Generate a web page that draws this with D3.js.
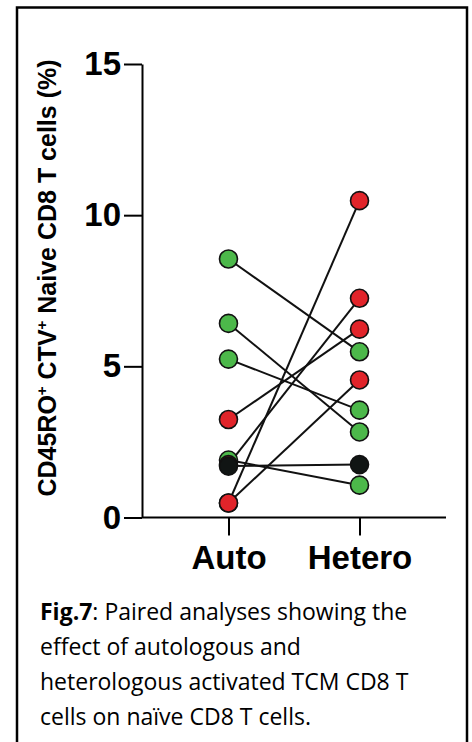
<!DOCTYPE html>
<html>
<head>
<meta charset="utf-8">
<script src="https://cdn.jsdelivr.net/npm/d3@7"></script>
<style>
  body { margin: 0; background: #fff; }
</style>
</head>
<body>
<div id="chart_container"></div>
<script>
// paired values, one entry per donor pair
var groups = ["Auto", "Hetero"];
var autoValues   = [8.55, 6.42, 5.24, 3.24, 1.90, 1.75, 1.70, 0.48, 0.48];
var heteroValues = [5.48, 2.83, 3.55, 6.23, 1.07, 7.25, 1.75, 10.48, 4.55];
var pairColors   = ["green", "green", "green", "red", "green", "red", "black", "red", "red"];
var yTicks = [0, 5, 10, 15];
var captionLines = [
    ["Fig.7", ": Paired analyses showing the"],
    ["", "effect of autologous and"],
    ["", "heterologous activated TCM CD8 T"],
    ["", "cells on naïve CD8 T cells."]
];

var fillOf = {green: "#4cb84a", red: "#e1242a", black: "#111514"};

var width = 472, height = 742;

var svg = d3.select("#chart_container")
    .append("svg")
    .attr("width", width)
    .attr("height", height);

// frame around the figure (bottom edge is cut off)
svg.append("rect")
    .attr("x", 17)
    .attr("y", 7.5)
    .attr("width", 450)
    .attr("height", 760)
    .attr("fill", "none")
    .attr("stroke", "#000")
    .attr("stroke-width", 2.5);

var x = d3.scalePoint()
    .domain(groups)
    .range([142, 446])
    .padding(0.66);

var y = d3.scaleLinear()
    .domain([0, 15])
    .range([517.5, 64]);

var pairs = autoValues.map(function(v, i) {
    return {auto: v, hetero: heteroValues[i], color: pairColors[i]};
});

var axisFont = "'Liberation Sans', Arial, sans-serif";

// Y axis
var yAxis = d3.axisLeft(y)
    .tickValues(yTicks)
    .tickSize(18)
    .tickSizeOuter(0)
    .tickPadding(3);

var gy = svg.append("g")
    .attr("transform", "translate(142,0)")
    .call(yAxis);

// X axis
var xAxis = d3.axisBottom(x)
    .tickSize(18)
    .tickSizeOuter(0)
    .tickPadding(10);

var gx = svg.append("g")
    .attr("transform", "translate(0," + y(0) + ")")
    .call(xAxis);

gx.select(".domain").attr("d", "M142,0H446");

[gx, gy].forEach(function(g) {
    g.selectAll("path, line")
        .attr("stroke", "#000")
        .attr("stroke-width", 2);
    g.selectAll("text")
        .attr("fill", "#000")
        .style("font-family", axisFont)
        .style("font-weight", "bold")
        .style("font-size", "33px");
});

// Y label
var ylab = svg.append("text")
    .attr("transform", "translate(56," + 278 + ") rotate(-90)")
    .attr("text-anchor", "middle")
    .style("font-family", axisFont)
    .style("font-weight", "bold")
    .style("font-size", "25px")
    .attr("fill", "#000");

ylab.append("tspan").text("CD45RO");
ylab.append("tspan").attr("dy", -9).style("font-size", "15px").text("+");
ylab.append("tspan").attr("dy", 9).text(" CTV");
ylab.append("tspan").attr("dy", -9).style("font-size", "15px").text("+");
ylab.append("tspan").attr("dy", 9).text(" Naive CD8 T cells (%)");

// pair lines
var plot = svg.append("g");

plot.selectAll(".pair-line")
    .data(pairs)
    .enter()
    .append("line")
    .attr("class", "pair-line")
    .attr("x1", x("Auto"))
    .attr("x2", x("Hetero"))
    .attr("y1", function(d) { return y(d.auto); })
    .attr("y2", function(d) { return y(d.hetero); })
    .attr("stroke", "#111")
    .attr("stroke-width", 2);

// points, black drawn last so it sits on top
var ordered = pairs.slice().sort(function(a, b) {
    return (a.color === "black") - (b.color === "black");
});

["auto", "hetero"].forEach(function(key, k) {
    plot.selectAll(".pt-" + key)
        .data(ordered)
        .enter()
        .append("circle")
        .attr("class", "pt-" + key)
        .attr("cx", x(groups[k]))
        .attr("cy", function(d) { return y(d[key]); })
        .attr("r", 9)
        .attr("fill", function(d) { return fillOf[d.color]; })
        .attr("stroke", "#111")
        .attr("stroke-width", 1.6);
});

// caption
var caption = svg.append("g")
    .style("font-family", "'Open Sans', Lato, sans-serif")
    .style("font-size", "23px")
    .attr("fill", "#000");

captionLines.forEach(function(parts, i) {
    var t = caption.append("text")
        .attr("x", 40)
        .attr("y", 620 + i * 35);
    if (parts[0]) t.append("tspan").style("font-weight", "bold").text(parts[0]);
    t.append("tspan").text(parts[1]);
});
</script>
</body>
</html>
